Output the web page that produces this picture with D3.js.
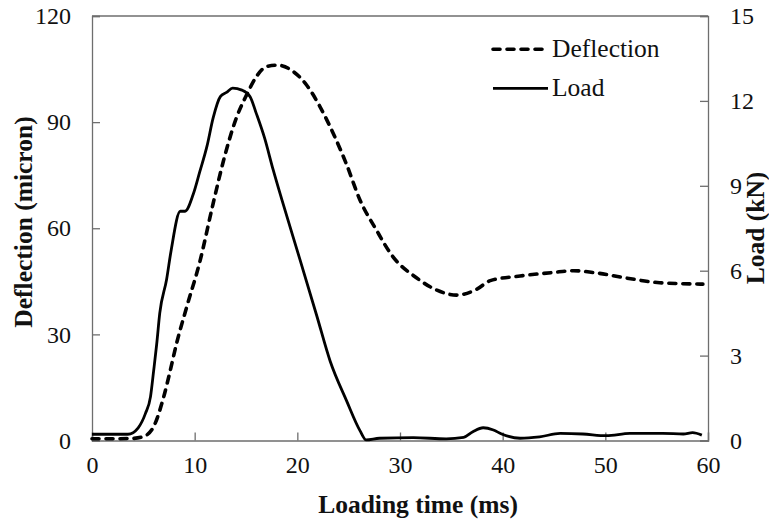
<!DOCTYPE html>
<html>
<head>
<meta charset="utf-8">
<script src="https://cdn.jsdelivr.net/npm/d3@7"></script>
<style>
  html, body { margin: 0; padding: 0; background: #fff; }
  svg { display: block; }
  svg text { font-family: "Liberation Serif", "Times New Roman", Times, serif !important; }
</style>
</head>
<body>
<svg id="chart" width="769" height="523"></svg>
<script>
// Loading time (ms) and mid-span deflection (micron)
const deflTime = [0, 2, 4, 5, 6, 7, 7.6, 8.2, 9.2, 10.5, 11.8, 12.8, 14.1, 15.06, 16, 17, 18.1, 19.6, 20.9, 22.2, 23.5, 24.8, 26.1, 27.7, 29.3, 31.6, 33.6, 35.5, 37.5, 38.8, 41.7, 44.9, 46.9, 48.8, 52.1, 55.3, 59.5];
const deflValue = [0.5, 0.5, 0.6, 1.1, 3.9, 12.5, 19.5, 27, 37.5, 50.5, 67, 79, 91.5, 97.7, 102.8, 105.7, 106.1, 104.3, 100.5, 94.4, 86.8, 78, 68, 59.5, 52, 46, 42.5, 41.1, 42.8, 45.2, 46.5, 47.5, 48, 47.5, 45.9, 44.6, 44.2];

// Loading time (ms) and applied load (kN)
const loadTime = [0, 3.5, 4.5, 5.2, 5.7, 6.0, 6.3, 6.6, 7.27, 7.7, 8.6, 9.06, 9.86, 10.5, 11.2, 11.8, 12.5, 13.1, 13.7, 14.6, 15.4, 16.0, 16.8, 17.65, 18.5, 20.25, 21.9, 23.2, 24.8, 26.1, 26.7, 28, 31.3, 34.5, 36.2, 37.1, 38.1, 39.1, 39.9, 41.7, 43.6, 45.6, 47.8, 50.1, 52.4, 55.6, 57.6, 58.5, 59.4];
const loadValue = [0.22, 0.22, 0.45, 0.95, 1.55, 2.45, 3.4, 4.5, 5.7, 6.7, 8.1, 8.1, 8.7, 9.5, 10.4, 11.4, 12.15, 12.3, 12.45, 12.38, 12.15, 11.56, 10.7, 9.56, 8.5, 6.4, 4.4, 2.8, 1.4, 0.35, 0.02, 0.08, 0.1, 0.06, 0.11, 0.31, 0.45, 0.37, 0.23, 0.08, 0.13, 0.25, 0.23, 0.17, 0.25, 0.25, 0.23, 0.28, 0.19];

const xTicks = [0, 10, 20, 30, 40, 50, 60];
const leftTicks = [0, 30, 60, 90, 120];
const rightTicks = [0, 3, 6, 9, 12, 15];
const seriesNames = ["Deflection", "Load"];

const serif = "'Liberation Serif', 'Times New Roman', Times, serif";
const svg = d3.select("#chart");
const plot = { left: 92, right: 708, top: 16, bottom: 440.5 };

const x = d3.scaleLinear().domain([0, 60]).range([plot.left, plot.right]);
const yL = d3.scaleLinear().domain([0, 120]).range([plot.bottom, plot.top]);
const yR = d3.scaleLinear().domain([0, 15]).range([plot.bottom, plot.top]);

const axisColor = "#6e6e6e";
const tickFont = 24;
const labelFont = 25.5;

// Axes with inward ticks
const gx = svg.append("g").attr("transform", `translate(0,${plot.bottom})`)
  .call(d3.axisBottom(x).tickValues(xTicks).tickSize(-8).tickPadding(15).tickFormat(d3.format("d")));
const gl = svg.append("g").attr("transform", `translate(${plot.left},0)`)
  .call(d3.axisLeft(yL).tickValues(leftTicks).tickSize(-8).tickPadding(21).tickFormat(d3.format("d")));
const gr = svg.append("g").attr("transform", `translate(${plot.right},0)`)
  .call(d3.axisRight(yR).tickValues(rightTicks).tickSize(-8).tickPadding(22).tickFormat(d3.format("d")));

[gx, gl, gr].forEach(g => {
  g.attr("font-family", null).attr("font-size", null);
  g.select(".domain").attr("stroke", axisColor).attr("stroke-width", 1.3);
  g.selectAll(".tick line").attr("stroke", axisColor).attr("stroke-width", 1.3);
  g.selectAll(".tick text")
    .style("font-family", serif)
    .style("font-size", tickFont + "px").attr("fill", "#111");
});

// Top border of the plot frame
svg.append("line")
  .attr("x1", plot.left).attr("x2", plot.right)
  .attr("y1", plot.top).attr("y2", plot.top)
  .attr("stroke", axisColor).attr("stroke-width", 1.3);

// Curves
const deflLine = d3.line()
  .x((d, i) => x(deflTime[i]))
  .y(d => yL(d))
  .curve(d3.curveMonotoneX);
const loadLine = d3.line()
  .x((d, i) => x(loadTime[i]))
  .y(d => yR(d))
  .curve(d3.curveMonotoneX);

svg.append("path")
  .attr("d", deflLine(deflValue))
  .attr("fill", "none").attr("stroke", "#000")
  .attr("stroke-width", 3.6).attr("stroke-dasharray", "7,7")
  .attr("stroke-linecap", "round");

svg.append("path")
  .attr("d", loadLine(loadValue))
  .attr("fill", "none").attr("stroke", "#000")
  .attr("stroke-width", 2.8).attr("stroke-linejoin", "round");

// Legend
const legend = svg.append("g");
const legendRows = [
  { name: seriesNames[0], y: 49.3, dash: "7,7", cap: "round", w: 3.6 },
  { name: seriesNames[1], y: 88.3, dash: null, cap: "butt", w: 2.8 }
];
legendRows.forEach(r => {
  legend.append("line")
    .attr("x1", 493).attr("x2", 548).attr("y1", r.y).attr("y2", r.y)
    .attr("stroke", "#000").attr("stroke-width", r.w)
    .attr("stroke-dasharray", r.dash).attr("stroke-linecap", r.cap);
  legend.append("text")
    .attr("x", 552).attr("y", r.y + 7.5)
    .style("font-family", serif).style("font-size", labelFont + "px")
    .attr("fill", "#111")
    .text(r.name);
});

// Axis titles
function title(sel) {
  return sel.attr("text-anchor", "middle")
    .style("font-family", serif).style("font-size", labelFont + "px")
    .style("font-weight", "bold").attr("fill", "#111");
}

svg.append("text")
  .attr("x", 418).attr("y", 513)
  .call(title)
  .text("Loading time (ms)");

svg.append("text")
  .attr("transform", "translate(32,222) rotate(-90)")
  .call(title)
  .text("Deflection (micron)");

svg.append("text")
  .attr("transform", "translate(764,228) rotate(-90)")
  .call(title)
  .text("Load (kN)");
</script>
</body>
</html>
